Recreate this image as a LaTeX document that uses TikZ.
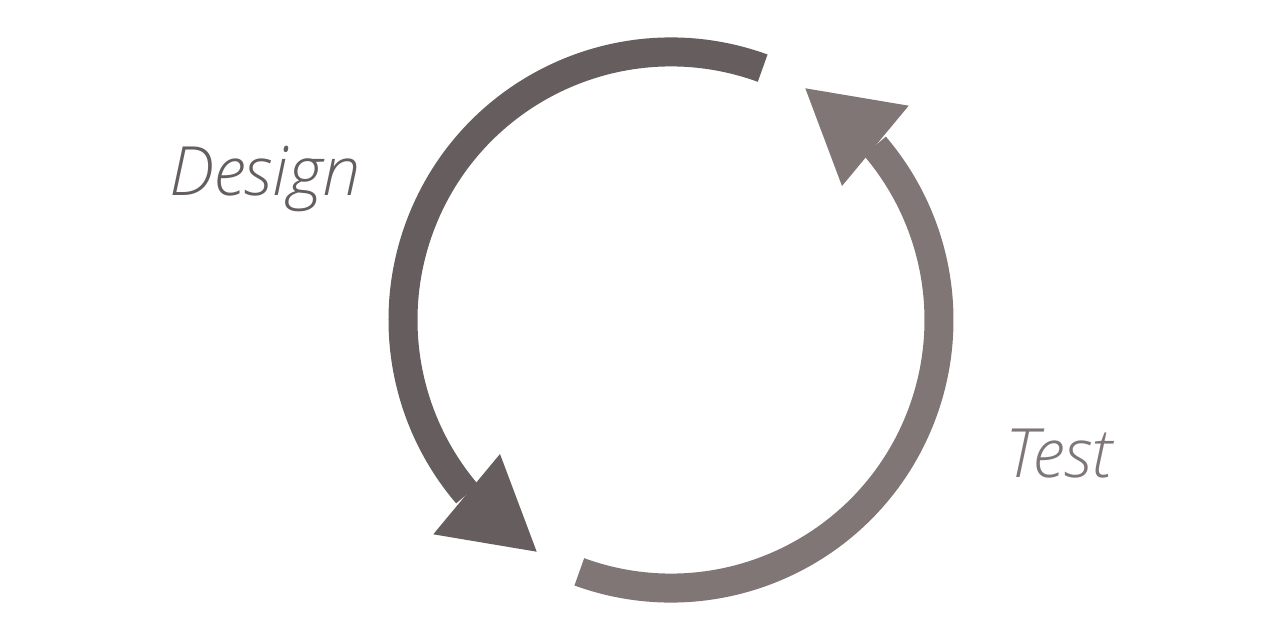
\documentclass[tikz,border=0pt]{standalone}
\usepackage{fontspec}
\IfFontExistsTF{Open Sans Light Italic}{\newfontfamily\lbl{Open Sans Light Italic}}{\newfontfamily\lbl{Open Sans Italic}}
\definecolor{designc}{HTML}{655D5E}
\definecolor{testc}{HTML}{807675}
\definecolor{designt}{HTML}{655E5F}
\definecolor{testt}{HTML}{7F7677}
\tikzset{
  arcline/.style={line width=29pt, line cap=butt},
  lbltext/.style={inner sep=0pt, anchor=base west, font=\lbl\fontsize{68}{76}\selectfont}
}
\begin{document}
\begin{tikzpicture}[x=1pt,y=1pt]
\useasboundingbox (-671,-320) rectangle (609,320);
% Design arc
\draw[arcline, designc] (70:268) arc[start angle=70, end angle=220.5, radius=268];
\fill[designc] (-237.7,-214.3) -- (-134.3,-231.7) -- (-171,-134) -- cycle;
% Test arc
\draw[arcline, testc] (250:268) arc[start angle=250, end angle=400.5, radius=268];
\fill[testc] (237.7,214.3) -- (134.3,231.7) -- (171,134) -- cycle;
% labels
\node[lbltext, text=designt] (design) at (-502,124) {Design};
\node[lbltext, text=testt] (test) at (334,-157) {Test};
\end{tikzpicture}
\end{document}
